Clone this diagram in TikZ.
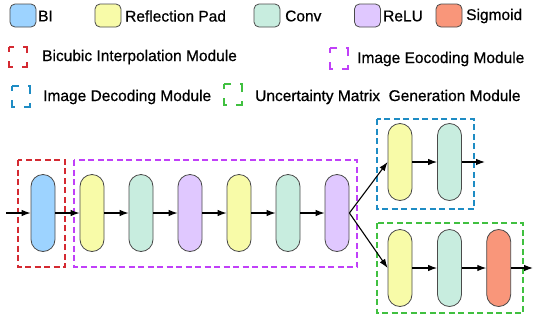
\documentclass[tikz,border=0pt]{standalone}
\usepackage{fontspec}
\setmainfont{Liberation Sans}
\newfontfamily\medfont[FakeBold=0.7]{Liberation Sans}
\usetikzlibrary{arrows.meta}
\definecolor{cbi}{HTML}{9DD3FF}
\definecolor{cyel}{HTML}{F8FBA8}
\definecolor{cconv}{HTML}{C8EDDF}
\definecolor{crelu}{HTML}{E0C8FF}
\definecolor{csig}{HTML}{F9967A}
\definecolor{cred}{HTML}{D42A32}
\definecolor{cpur}{HTML}{C040F8}
\definecolor{cblu}{HTML}{1E8CC4}
\definecolor{cgrn}{HTML}{40C040}
\definecolor{cedge}{HTML}{4A4A4A}
\tikzset{
  blk/.style={draw=cedge, line width=0.8pt, rounded corners=12pt, minimum width=24pt, minimum height=77pt, inner sep=0pt},
  leg/.style={draw=cedge, line width=0.8pt, rounded corners=5pt, minimum width=26pt, minimum height=23pt, inner sep=0pt},
  lbl/.style={anchor=west, inner sep=0pt, font=\medfont\fontsize{15.5pt}{17pt}\selectfont},
  modbox/.style={line width=1.8pt, dash pattern=on 6pt off 3.5pt},
  legbox/.style={line width=1.6pt, dash pattern=on 10pt off 9pt, dash phase=5pt},
  arr/.style={line width=1.1pt, -{Latex[length=9pt,width=6.5pt]}}
}
\begin{document}
\begin{tikzpicture}[x=1pt,y=-1pt]
\useasboundingbox (0,0) rectangle (533,322);
% legend row 1
\node[leg, fill=cbi] (lbi) at (23,15.5) {};
\node[lbl] (tbi) at (38,16) {BI};
\node[leg, fill=cyel] (lyel) at (108,15.5) {};
\node[lbl] (tyel) at (125,16) {Reflection Pad};
\node[leg, fill=cconv] (lconv) at (267,15.5) {};
\node[lbl] (tconv) at (285,16) {Conv};
\node[leg, fill=crelu] (lrelu) at (367.5,15.5) {};
\node[lbl] (trelu) at (383,16) {ReLU};
\node[leg, fill=csig] (lsig) at (449,15.5) {};
\node[lbl] (tsig) at (466,16) {Sigmoid};
% legend rows 2-3
\draw[legbox, cred] (9,47) rectangle (27,67);
\node[lbl] (tred) at (42,57) {Bicubic Interpolation Module};
\draw[legbox, cpur] (330,48) rectangle (348,69);
\node[lbl] (tpur) at (357,59) {Image Eocoding Module};
\draw[legbox, cblu] (12,86) rectangle (30,107);
\node[lbl] (tblu) at (43,97) {Image Decoding Module};
\draw[legbox, cgrn] (224,84) rectangle (242,105);
\node[lbl] (tgrn) at (255,97) {Uncertainty Matrix\ \ Generation Module};
% module boxes
\draw[modbox, cred] (18,160) rectangle (65,267);
\draw[modbox, cpur] (74,160) rectangle (357,267);
\draw[modbox, cblu] (377,119) rectangle (474,209);
\draw[modbox, cgrn] (377,223) rectangle (523,313);
% main chain
\coordinate (in) at (6,213);
\node[blk, fill=cbi] (bi) at (43,213) {};
\node[blk, fill=cyel] (y1) at (92,213) {};
\node[blk, fill=cconv] (c1) at (141,213) {};
\node[blk, fill=crelu] (r1) at (190,213) {};
\node[blk, fill=cyel] (y2) at (239,213) {};
\node[blk, fill=cconv] (c2) at (288,213) {};
\node[blk, fill=crelu] (r2) at (337,213) {};
% upper branch
\node[blk, fill=cyel] (y3) at (400,162) {};
\node[blk, fill=cconv] (c3) at (449.5,162) {};
\coordinate (out1) at (485,162);
% lower branch
\node[blk, fill=cyel] (y4) at (400,268) {};
\node[blk, fill=cconv] (c4) at (449.5,268) {};
\node[blk, fill=csig] (s4) at (498.7,268) {};
\coordinate (out2) at (533,268);
% arrows
\draw[arr] (in) -- (bi.west);
\draw[arr] (bi.east) -- (y1.west);
\draw[arr] (y1.east) -- (c1.west);
\draw[arr] (c1.east) -- (r1.west);
\draw[arr] (r1.east) -- (y2.west);
\draw[arr] (y2.east) -- (c2.west);
\draw[arr] (c2.east) -- (r2.west);
\draw[arr] (r2.east) -- (y3.west);
\draw[arr] (r2.east) -- (y4.west);
\draw[arr] (y3.east) -- (c3.west);
\draw[arr] (c3.east) -- (out1);
\draw[arr] (y4.east) -- (c4.west);
\draw[arr] (c4.east) -- (s4.west);
\draw[arr] (s4.east) -- (out2);
\end{tikzpicture}
\end{document}
